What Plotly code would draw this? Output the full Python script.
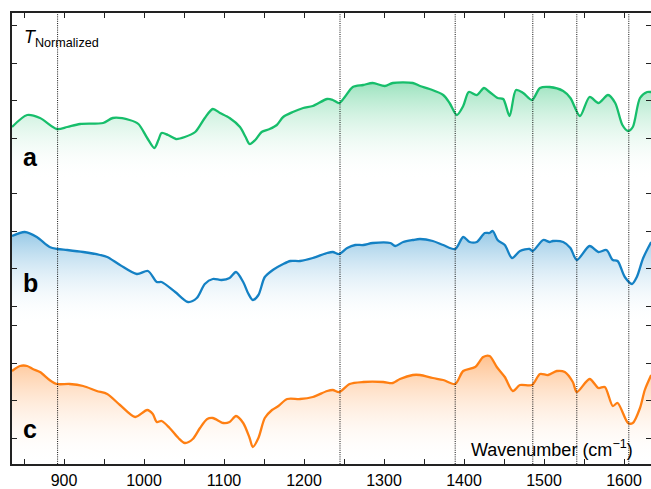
import plotly.graph_objects as go

# ---------------- data ----------------
wn_a = [835, 854, 870, 891, 904, 920, 949, 961, 982, 993, 1004, 1013, 1018, 1022, 1030, 1040,
        1051, 1064, 1076, 1086, 1095, 1107, 1120, 1127, 1132, 1139, 1147, 1157, 1166, 1174,
        1186, 1199, 1211, 1229, 1236, 1244, 1251, 1261, 1274, 1286, 1301, 1311, 1336, 1345,
        1357, 1374, 1382, 1391, 1399, 1406, 1416, 1425, 1432, 1442, 1449, 1457, 1465, 1474,
        1485, 1495, 1507, 1524, 1533, 1545, 1557, 1568, 1580, 1589, 1598, 1605, 1611, 1620,
        1629, 1634]
t_a = [3.37, 3.49, 3.46, 3.35, 3.37, 3.40, 3.41, 3.46, 3.44, 3.40, 3.26, 3.16, 3.24, 3.31, 3.29,
       3.25, 3.27, 3.32, 3.46, 3.55, 3.51, 3.46, 3.37, 3.27, 3.20, 3.24, 3.32, 3.35, 3.39, 3.47,
       3.52, 3.56, 3.58, 3.65, 3.64, 3.61, 3.67, 3.77, 3.79, 3.81, 3.78, 3.81, 3.81, 3.78, 3.75,
       3.69, 3.61, 3.49, 3.58, 3.72, 3.69, 3.76, 3.72, 3.66, 3.65, 3.48, 3.74, 3.71, 3.64, 3.76,
       3.77, 3.73, 3.66, 3.48, 3.67, 3.61, 3.69, 3.61, 3.39, 3.33, 3.37, 3.66, 3.72, 3.72]

wn_b = [835, 851, 866, 882, 892, 904, 924, 945, 954, 970, 991, 1005, 1016, 1022, 1039, 1055,
        1066, 1076, 1086, 1097, 1107, 1115, 1124, 1130, 1136, 1143, 1151, 1161, 1174, 1183,
        1195, 1211, 1229, 1236, 1244, 1254, 1264, 1274, 1286, 1308, 1314, 1324, 1336, 1345,
        1361, 1374, 1389, 1399, 1407, 1416, 1426, 1432, 1436, 1442, 1451, 1460, 1470, 1482,
        1486, 1499, 1507, 1511, 1524, 1533, 1541, 1557, 1568, 1578, 1586, 1592, 1601, 1610,
        1616, 1624, 1634]
t_b = [2.28, 2.32, 2.27, 2.17, 2.15, 2.14, 2.12, 2.09, 2.07, 1.99, 1.90, 1.93, 1.82, 1.82, 1.72,
       1.62, 1.66, 1.80, 1.85, 1.84, 1.86, 1.92, 1.82, 1.71, 1.64, 1.69, 1.87, 1.94, 2.00, 2.03,
       2.03, 2.06, 2.11, 2.12, 2.10, 2.16, 2.19, 2.19, 2.21, 2.21, 2.18, 2.22, 2.24, 2.25, 2.23,
       2.19, 2.15, 2.27, 2.22, 2.22, 2.31, 2.31, 2.33, 2.24, 2.19, 2.06, 2.13, 2.15, 2.13, 2.24,
       2.22, 2.23, 2.22, 2.16, 2.04, 2.18, 2.12, 2.14, 2.04, 2.03, 1.87, 1.80, 1.87, 2.06, 2.22]

wn_c = [835, 845, 854, 861, 870, 882, 891, 907, 924, 941, 954, 970, 989, 1004, 1011, 1016,
        1022, 1032, 1043, 1051, 1061, 1070, 1079, 1086, 1099, 1107, 1115, 1124, 1132, 1136,
        1143, 1151, 1160, 1168, 1179, 1195, 1211, 1229, 1236, 1244, 1257, 1274, 1299, 1311,
        1320, 1336, 1345, 1361, 1374, 1389, 1399, 1414, 1424, 1432, 1441, 1451, 1461, 1470,
        1485, 1495, 1505, 1516, 1526, 1536, 1541, 1557, 1568, 1576, 1586, 1592, 1605, 1611,
        1620, 1626, 1634]
t_c = [0.93, 0.98, 0.98, 0.95, 0.92, 0.84, 0.80, 0.80, 0.78, 0.73, 0.70, 0.59, 0.47, 0.54, 0.50,
       0.42, 0.43, 0.36, 0.26, 0.21, 0.25, 0.36, 0.45, 0.46, 0.41, 0.42, 0.48, 0.41, 0.26, 0.17,
       0.26, 0.46, 0.54, 0.58, 0.65, 0.65, 0.67, 0.73, 0.74, 0.72, 0.80, 0.82, 0.82, 0.81, 0.85,
       0.89, 0.89, 0.86, 0.84, 0.80, 0.93, 0.97, 1.07, 1.08, 0.97, 0.87, 0.73, 0.79, 0.79, 0.90,
       0.89, 0.93, 0.92, 0.82, 0.72, 0.85, 0.76, 0.77, 0.58, 0.61, 0.41, 0.41, 0.56, 0.74, 0.89]

marker_lines = [892, 1245, 1389, 1486, 1541, 1606]
y_ticks = [0.26, 0.635, 1.01, 1.385, 1.58, 1.955, 2.33, 2.705, 3.26, 3.635, 4.01, 4.385]
x_range = [835, 1633.75]
y_range = [0, 4.51]

# ---------------- styles ----------------
series = [
    ("a", wn_a, t_a, "#17BE6B", "rgba(140,222,180,0.85)", 2.84),
    ("b", wn_b, t_b, "#1481C4", "rgba(130,190,225,0.85)", 1.39),
    ("c", wn_c, t_c, "#FF7F12", "rgba(255,178,115,0.80)", 0.0),
]
FONT = "Liberation Sans, Arial, Helvetica, sans-serif"

fig = go.Figure()
for name, wn, t, line_col, fill_col, floor in series:
    fig.add_trace(go.Scatter(x=wn, y=[floor] * len(wn), mode="lines",
                             line=dict(width=0, color="rgba(0,0,0,0)"),
                             hoverinfo="skip", showlegend=False))
    fig.add_trace(go.Scatter(
        x=wn, y=t, mode="lines", name=name, showlegend=False,
        line=dict(color=line_col, width=2.3, shape="spline", smoothing=0.8),
        fill="tonexty",
        fillgradient=dict(type="vertical", start=floor, stop=max(t),
                          colorscale=[[0, "rgba(255,255,255,0)"], [1, fill_col]]),
    ))

for xv in marker_lines:
    fig.add_shape(type="line", xref="x", yref="paper", x0=xv, x1=xv, y0=0, y1=1,
                  line=dict(color="#111111", width=1, dash="1px,1.2px"))

for lbl, ypx in [("a", 157), ("b", 283), ("c", 429)]:
    fig.add_annotation(text=f"<b>{lbl}</b>", xref="paper", yref="paper",
                       x=(30 - 12) / 639, y=(464 - ypx) / 451, showarrow=False,
                       xanchor="center", yanchor="middle",
                       font=dict(family=FONT, size=25, color="black"))

fig.add_annotation(text="<i>T</i><sub>Normalized</sub>", xref="paper", yref="paper",
                   x=(22 - 12) / 639, y=(464 - 39) / 451, showarrow=False,
                   xanchor="left", yanchor="middle",
                   font=dict(family=FONT, size=18, color="black"))
fig.add_annotation(text="Wavenumber (cm<sup>−1</sup>)", xref="paper", yref="paper",
                   x=(635 - 12) / 639, y=(464 - 448) / 451, showarrow=False,
                   xanchor="right", yanchor="middle",
                   font=dict(family=FONT, size=18, color="black"))

axis_common = dict(showline=True, linecolor="#222222", linewidth=1.5, mirror="allticks",
                   ticks="inside", tickcolor="#222222", tickwidth=1.2, ticklen=5,
                   showgrid=False, zeroline=False, automargin=False)
fig.update_xaxes(range=x_range, tick0=900, dtick=100, ticklabelstandoff=1,
                 minor=dict(dtick=50, ticks="inside", ticklen=5, tickcolor="#222222",
                            tickwidth=1.2, showgrid=False),
                 tickfont=dict(family=FONT, size=16, color="black"), **axis_common)
fig.update_yaxes(range=y_range, tickvals=y_ticks, showticklabels=False, **axis_common)

fig.update_layout(width=651, height=489, margin=dict(l=12, r=0, t=13, b=25),
                  plot_bgcolor="white", paper_bgcolor="white", showlegend=False)

fig.write_html("out.html", config={"displayModeBar": False},
               post_script="document.body.style.margin='0';document.body.style.overflow='hidden';")
